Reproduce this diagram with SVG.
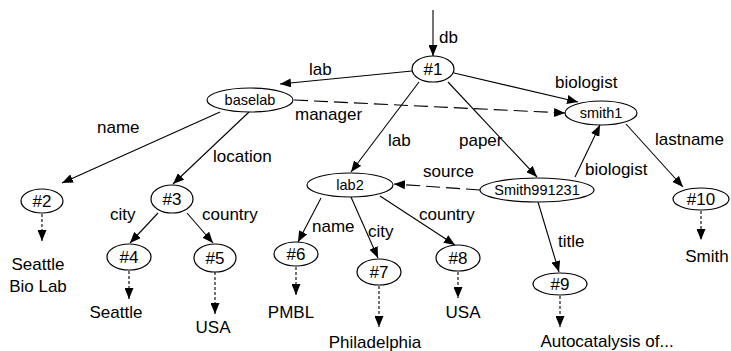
<svg xmlns="http://www.w3.org/2000/svg" width="731" height="351" viewBox="0 0 731 351">
<style>
  .n ellipse { fill: #fff; stroke: #000; stroke-width: 1.2; }
  .n text { font-family: "Liberation Sans", Arial, sans-serif; font-size: 17px; text-anchor: middle; fill: #000; }
  .n text.s { font-size: 14.5px; }
  .c line { stroke: #000; stroke-width: 1.1; fill: none; marker-end: url(#ah); }
  .c line.dash { stroke-dasharray: 14 6; }
  .c line.dot { stroke-dasharray: 3 2; }
  .lbl { font-family: "Liberation Sans", Arial, sans-serif; font-size: 17px; fill: #000; }
  .val { font-family: "Liberation Sans", Arial, sans-serif; font-size: 17px; fill: #000; text-anchor: middle; }
</style>
<defs>
  <marker id="ah" markerUnits="userSpaceOnUse" markerWidth="11" markerHeight="9" refX="11" refY="4.5" orient="auto">
    <path d="M0,0 L11,4.5 L0,9 z" fill="#000"/>
  </marker>
</defs>
<rect width="731" height="351" fill="#fff"/>
<g id="connectors" class="c">
  <line x1="433" y1="10" x2="433" y2="56"/>
  <line x1="412" y1="71" x2="280" y2="84"/>
  <line x1="454" y1="73" x2="578" y2="102"/>
  <line x1="419" y1="82" x2="351" y2="172"/>
  <line x1="448" y1="82" x2="537" y2="177"/>
  <line class="dash" x1="294" y1="100" x2="565" y2="113"/>
  <line x1="220" y1="112" x2="62" y2="183"/>
  <line x1="249" y1="112" x2="173" y2="184"/>
  <line x1="158" y1="213" x2="130" y2="243"/>
  <line x1="187" y1="213" x2="213" y2="243"/>
  <line class="dash" x1="480" y1="190" x2="394" y2="184"/>
  <line x1="321" y1="198" x2="298" y2="242"/>
  <line x1="351" y1="197" x2="378" y2="258"/>
  <line x1="380" y1="196" x2="455" y2="245"/>
  <line x1="575" y1="177" x2="600" y2="125"/>
  <line x1="626" y1="124" x2="683" y2="187"/>
  <line x1="538" y1="202" x2="559" y2="272"/>
  <line class="dot" x1="42" y1="214" x2="42" y2="241"/>
  <line class="dot" x1="129" y1="271" x2="129" y2="299"/>
  <line class="dot" x1="215" y1="272" x2="215" y2="314"/>
  <line class="dot" x1="296" y1="267" x2="296" y2="295"/>
  <line class="dot" x1="379" y1="286" x2="379" y2="327"/>
  <line class="dot" x1="458" y1="272" x2="458" y2="298"/>
  <line class="dot" x1="560" y1="296" x2="560" y2="327"/>
  <line class="dot" x1="701" y1="211" x2="701" y2="240"/>
</g>
<g id="edge-labels">
  <text class="lbl" x="439" y="43">db</text>
  <text class="lbl" x="309" y="75">lab</text>
  <text class="lbl" x="555" y="88">biologist</text>
  <text class="lbl" x="388" y="146">lab</text>
  <text class="lbl" x="459" y="146">paper</text>
  <text class="lbl" x="295" y="120">manager</text>
  <text class="lbl" x="97" y="133">name</text>
  <text class="lbl" x="213" y="162">location</text>
  <text class="lbl" x="110" y="220">city</text>
  <text class="lbl" x="202" y="220">country</text>
  <text class="lbl" x="423" y="177">source</text>
  <text class="lbl" x="312" y="232">name</text>
  <text class="lbl" x="368" y="237">city</text>
  <text class="lbl" x="419" y="220">country</text>
  <text class="lbl" x="585" y="175">biologist</text>
  <text class="lbl" x="655" y="145">lastname</text>
  <text class="lbl" x="558" y="247">title</text>
</g>
<g id="n1" class="n"><ellipse cx="433" cy="69" rx="21" ry="13"/><text x="433" y="75">#1</text></g>
<g id="baselab" class="n"><ellipse cx="250" cy="100" rx="43" ry="12"/><text class="s" x="250" y="105">baselab</text></g>
<g id="smith1" class="n"><ellipse cx="601" cy="113" rx="36" ry="12"/><text class="s" x="601" y="118">smith1</text></g>
<g id="lab2" class="n"><ellipse cx="350" cy="185" rx="43" ry="12"/><text class="s" x="350" y="190">lab2</text></g>
<g id="smith991231" class="n"><ellipse cx="537" cy="190" rx="57" ry="12"/><text class="s" x="537" y="195">Smith991231</text></g>
<g id="n2" class="n"><ellipse cx="42" cy="201" rx="21" ry="12"/><text x="42" y="207">#2</text></g>
<g id="n3" class="n"><ellipse cx="172" cy="199" rx="21" ry="14"/><text x="172" y="205">#3</text></g>
<g id="n4" class="n"><ellipse cx="129" cy="257" rx="22" ry="13"/><text x="129" y="263">#4</text></g>
<g id="n5" class="n"><ellipse cx="215" cy="258" rx="21" ry="14"/><text x="215" y="264">#5</text></g>
<g id="n6" class="n"><ellipse cx="296" cy="254" rx="22" ry="12"/><text x="296" y="260">#6</text></g>
<g id="n7" class="n"><ellipse cx="379" cy="272" rx="22" ry="13"/><text x="379" y="278">#7</text></g>
<g id="n8" class="n"><ellipse cx="458" cy="258" rx="22" ry="13"/><text x="458" y="264">#8</text></g>
<g id="n9" class="n"><ellipse cx="560" cy="284" rx="27" ry="11"/><text x="560" y="290">#9</text></g>
<g id="n10" class="n"><ellipse cx="701" cy="199" rx="28" ry="11"/><text x="701" y="205">#10</text></g>
<g id="values">
  <text class="val" x="38" y="270">Seattle</text>
  <text class="val" x="38" y="292">Bio Lab</text>
  <text class="val" x="116" y="318">Seattle</text>
  <text class="val" x="213" y="333">USA</text>
  <text class="val" x="291" y="318">PMBL</text>
  <text class="val" x="375" y="348">Philadelphia</text>
  <text class="val" x="463" y="318">USA</text>
  <text class="val" x="607" y="347">Autocatalysis of...</text>
  <text class="val" x="707" y="262">Smith</text>
</g>
</svg>
